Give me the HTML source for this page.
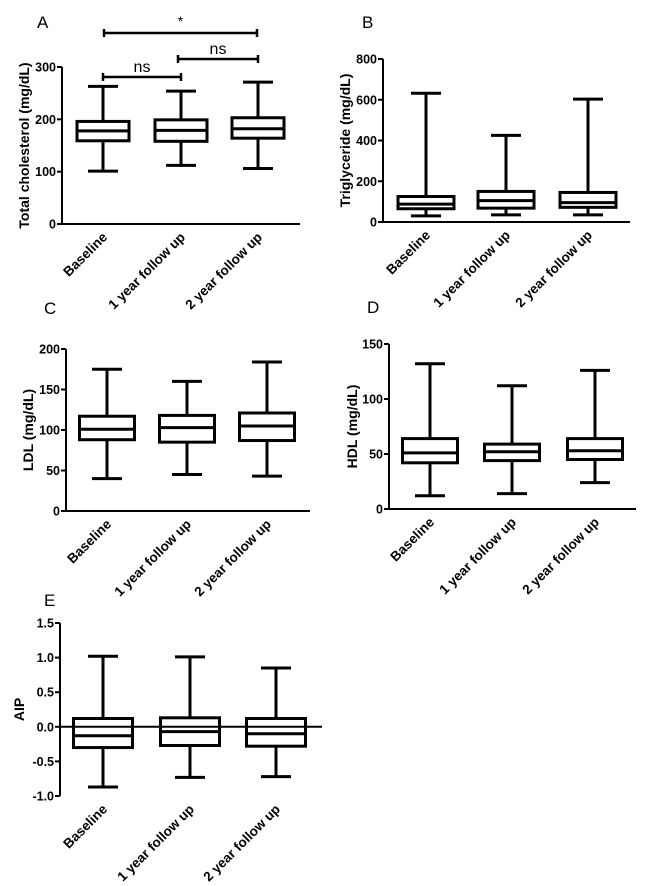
<!DOCTYPE html>
<html><head><meta charset="utf-8">
<style>
html,body{margin:0;padding:0;background:#fff;}
svg{display:block;font-family:"Liberation Sans",Arial,sans-serif;}
</style></head>
<body>
<svg id="fig" width="646" height="886" viewBox="0 0 646 886"></svg>
<script>
const categories = ["Baseline","1 year follow up","2 year follow up"];
// [max, q3, median, q1, min]
const tcValues = [[263,196,178,159,101],[254,199,179,158,112],[271,203,182,164,106]];
const tgValues = [[632,125,88,65,30],[425,150,105,68,35],[603,145,95,72,35]];
const ldlValues = [[175,117,101,88,40],[160,118,103,85,45],[184,121,105,87,43]];
const hdlValues = [[132,64,51,42,12],[112,59,52,44,14],[126,64,53,45,24]];
const aipValues = [[1.02,0.12,-0.13,-0.30,-0.87],[1.01,0.13,-0.07,-0.27,-0.73],[0.85,0.12,-0.10,-0.28,-0.72]];
const tcTicks = [0,100,200,300];
const tgTicks = [0,200,400,600,800];
const ldlTicks = [0,50,100,150,200];
const hdlTicks = [0,50,100,150];
const aipTicks = [-1.0,-0.5,0.0,0.5,1.0,1.5];
const aipTickLabels = ["-1.0","-0.5","0.0","0.5","1.0","1.5"];

const NS="http://www.w3.org/2000/svg";
const svg=document.getElementById('fig');
function mk(tag,attrs,parent){const e=document.createElementNS(NS,tag);for(const k in attrs)e.setAttribute(k,attrs[k]);(parent||svg).appendChild(e);return e;}

function panel(cfg){
  const g=mk('g',{});
  
  
  const y=v=>cfg.y0+(v-cfg.min)/(cfg.max-cfg.min)*(cfg.y1-cfg.y0);
  const lt=mk('text',{x:cfg.lx,y:cfg.ly,'font-size':17},g);lt.textContent=cfg.letter;
  
  
  const ya=mk('line',{x1:cfg.ax,x2:cfg.ax,y1:y(cfg.min),y2:y(cfg.max),stroke:'#000','stroke-width':2},g);
  
  
  cfg.ticks.forEach((t,i)=>{
    mk('line',{x1:cfg.ax-5,x2:cfg.ax,y1:y(t),y2:y(t),stroke:'#000','stroke-width':2},g);
    const tx=mk('text',{x:cfg.ax-6,y:y(t)+4.5,'font-size':12.5,'font-weight':'bold','text-anchor':'end'},g);
    tx.textContent=cfg.tickLabels?cfg.tickLabels[i]:t;
    
    
  });
  const yt=mk('text',{x:0,y:0,'font-size':14,'font-weight':'bold','text-anchor':'middle',transform:`translate(${cfg.tx},${(y(cfg.min)+y(cfg.max))/2+(cfg.tdy||0)}) rotate(-90)`},g);
  yt.textContent=cfg.title;
  
  
  const base=cfg.zeroLine?y(0):y(cfg.min);
  const xa=mk('line',{x1:cfg.ax,x2:cfg.axEnd,y1:base,y2:base,stroke:'#000','stroke-width':2},g);
  
  
  const labY=y(cfg.min);
  cfg.values.forEach((v,i)=>{
    const cx=cfg.centers[i],hw=cfg.bw/2,cw=cfg.cw/2;
    const bg=mk('g',{stroke:'#000','stroke-width':3,fill:'none'},g);
    
    
    mk('line',{x1:cx,x2:cx,y1:y(v[0]),y2:y(v[1])},bg);
    mk('line',{x1:cx,x2:cx,y1:y(v[3]),y2:y(v[4])},bg);
    mk('line',{x1:cx-cw,x2:cx+cw,y1:y(v[0]),y2:y(v[0])},bg);
    mk('line',{x1:cx-cw,x2:cx+cw,y1:y(v[4]),y2:y(v[4])},bg);
    mk('rect',{x:cx-hw,y:y(v[1]),width:cfg.bw,height:y(v[3])-y(v[1])},bg);
    mk('line',{x1:cx-hw,x2:cx+hw,y1:y(v[2]),y2:y(v[2])},bg);
    if(!cfg.zeroLine) mk('line',{x1:cx,x2:cx,y1:base,y2:base+5,'stroke-width':2},g);
    const xl=mk('text',{x:0,y:0,'font-size':13.5,'font-weight':'bold','text-anchor':'end',transform:`translate(${cx+5},${labY+14}) rotate(-45)`},g);
    xl.textContent=categories[i];
    
    
  });
  return y;
}

panel({letter:'A',lx:37,ly:28,ax:62,axEnd:300,y0:224,y1:67,min:0,max:300,ticks:tcTicks,title:'Total cholesterol (mg/dL)',tx:29,centers:[103,181,258],bw:52,cw:30,values:tcValues});
panel({letter:'B',lx:362,ly:28,ax:383,axEnd:630,y0:222,y1:59,min:0,max:800,ticks:tgTicks,title:'Triglyceride (mg/dL)',tx:350,centers:[426,506,588],bw:56,cw:30,values:tgValues});
panel({letter:'C',lx:44,ly:314,ax:66,axEnd:310,y0:511,y1:349,min:0,max:200,ticks:ldlTicks,title:'LDL (mg/dL)',tx:33,centers:[107,187,267],bw:55,cw:30,values:ldlValues});
panel({letter:'D',lx:367,ly:313,ax:389,axEnd:636,y0:509,y1:344,min:0,max:150,ticks:hdlTicks,title:'HDL (mg/dL)',tx:357,centers:[430,512,595],bw:55,cw:30,values:hdlValues});
panel({letter:'E',lx:44,ly:606,ax:60,axEnd:322,y0:796,y1:623,min:-1.0,max:1.5,ticks:aipTicks,tickLabels:aipTickLabels,title:'AIP',tx:24,centers:[103,190,276],bw:59,cw:30,values:aipValues,zeroLine:true});

const sig=[{x1:104,x2:257,y:33,label:'*',ly:26,fs:14},{x1:103,x2:181,y:77,label:'ns',ly:72,fs:16},{x1:178,x2:258,y:59,label:'ns',ly:54,fs:16}];
sig.forEach(s=>{
  const g=mk('g',{stroke:'#000','stroke-width':2.5});
  
  
  mk('line',{x1:s.x1,x2:s.x2,y1:s.y,y2:s.y},g);
  mk('line',{x1:s.x1,x2:s.x1,y1:s.y-4,y2:s.y+4},g);
  mk('line',{x1:s.x2,x2:s.x2,y1:s.y-4,y2:s.y+4},g);
  const t=mk('text',{x:(s.x1+s.x2)/2,y:s.ly,'font-size':s.fs,'text-anchor':'middle'});
  t.textContent=s.label;
  
  
});
</script>
</body></html>
